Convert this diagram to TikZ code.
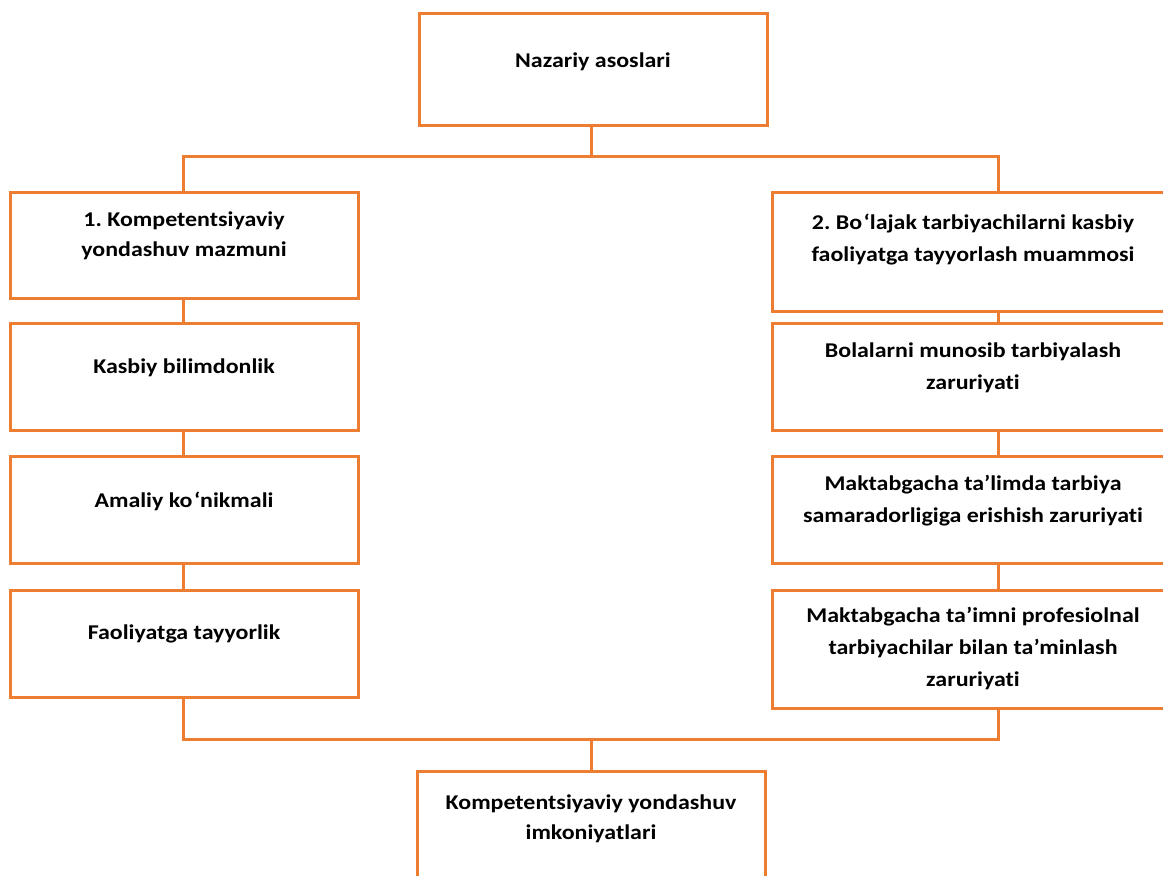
\documentclass[tikz,border=0pt]{standalone}
\usepackage{fontspec}
\setmainfont{Carlito}
\newfontfamily\boxfont[FakeStretch=1.14,Ligatures=NoCommon]{Carlito}
\definecolor{boxorange}{HTML}{ED7D31}
\begin{document}
\frenchspacing
\begin{tikzpicture}[x=1pt,y=-1pt,
  boxshape/.style={draw=boxorange,line width=3pt,fill=white,rectangle,inner sep=0pt},
  lbox/.style={boxshape,minimum width=348pt,minimum height=107pt},
  rbox/.style={boxshape,minimum width=400pt,minimum height=107pt},
  conn/.style={draw=boxorange,line width=3pt},
  lbl/.style={font=\boxfont\bfseries\fontsize{21}{30}\selectfont,align=center,inner sep=0pt},
  rlbl/.style={font=\boxfont\bfseries\fontsize{21}{32}\selectfont,align=center,inner sep=0pt}]
\useasboundingbox (0,0) rectangle (1163,876);
\begin{scope}
\clip (0,0) rectangle (1163,876);
% connector helper coordinates
\coordinate (hubT) at (591,156);
\coordinate (hubB) at (591,739);
\coordinate (cl) at (183,0);
\coordinate (cr) at (998,0);
% boxes
\node[boxshape,minimum width=348pt,minimum height=112pt] (top) at (593,69) {};
\node[lbox,minimum height=106pt] (L1) at (184,245) {};
\node[lbox] (L2) at (184,376.5) {};
\node[lbox] (L3) at (184,509.5) {};
\node[lbox] (L4) at (184,643.5) {};
\node[rbox,minimum height=119pt] (R1) at (972,251.5) {};
\node[rbox] (R2) at (972,376.5) {};
\node[rbox] (R3) at (972,509.5) {};
\node[rbox,minimum height=118pt] (R4) at (972,649) {};
\node[boxshape,minimum width=348pt,minimum height=124pt] (bot) at (591,833) {};
% connectors
\draw[conn] (top.south -| hubT) -- (hubT);
\draw[conn] (L1.north -| cl) |- (hubT) -| (R1.north -| cr);
\draw[conn] (L1.south -| cl) -- (L2.north -| cl);
\draw[conn] (L2.south -| cl) -- (L3.north -| cl);
\draw[conn] (L3.south -| cl) -- (L4.north -| cl);
\draw[conn] (R1.south -| cr) -- (R2.north -| cr);
\draw[conn] (R2.south -| cr) -- (R3.north -| cr);
\draw[conn] (R3.south -| cr) -- (R4.north -| cr);
\draw[conn] (L4.south -| cl) |- (hubB) -| (R4.south -| cr);
\draw[conn] (hubB) -- (bot.north -| hubB);
% texts
\node[lbl] (tTop) at (593,62) {Nazariy asoslari};
\node[lbl] (tL1) at (184,236) {1. Kompetentsiyaviy\\yondashuv mazmuni};
\node[lbl] (tL2) at (184,368) {Kasbiy bilimdonlik};
\node[lbl] (tL3) at (184,501) {Amaliy ko\kern1.5pt‘nikmali};
\node[lbl] (tL4) at (184,634) {Faoliyatga tayyorlik};
\node[rlbl] (tR1) at (973,240) {2. Bo\kern1.5pt‘lajak tarbiyachilarni kasbiy\\faoliyatga tayyorlash muammosi};
\node[rlbl] (tR2) at (973,368) {Bolalarni munosib tarbiyalash\\zaruriyati};
\node[rlbl] (tR3) at (973,501) {Maktabgacha ta’limda tarbiya\\samaradorligiga erishish zaruriyati};
\node[rlbl] (tR4) at (973,649) {Maktabgacha ta’imni profesiolnal\\tarbiyachilar bilan ta’minlash\\zaruriyati};
\node[rlbl,font=\boxfont\bfseries\fontsize{21}{30}\selectfont] (tBot) at (591,819) {Kompetentsiyaviy yondashuv\\imkoniyatlari};
\end{scope}
\end{tikzpicture}
\end{document}
